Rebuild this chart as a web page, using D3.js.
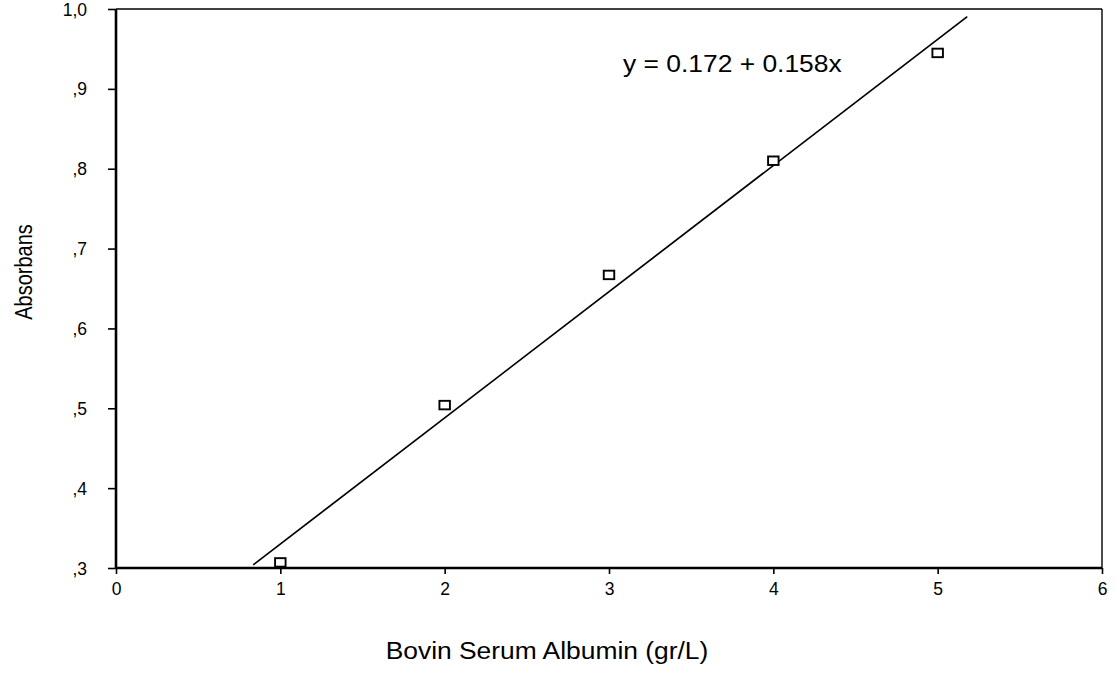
<!DOCTYPE html>
<html>
<head>
<meta charset="utf-8">
<script src="https://cdn.jsdelivr.net/npm/d3@7"></script>
<style>
  html, body { margin: 0; padding: 0; background: #fff; }
  svg { display: block; }
  text { font-family: Arial, "Liberation Sans", sans-serif; fill: #000; }
</style>
</head>
<body>
<svg id="chart" width="1117" height="673"></svg>
<script>
// ---- data ----
const concentrations = [1, 2, 3, 4, 5];
const absorbance = [0.307, 0.504, 0.667, 0.810, 0.945];
const fitIntercept = 0.172;
const fitSlope = 0.158;
const fitRange = [0.835, 5.18];
const xTicks = [0, 1, 2, 3, 4, 5, 6];
const yTicks = [0.3, 0.4, 0.5, 0.6, 0.7, 0.8, 0.9, 1.0];
const yTickLabels = [",3", ",4", ",5", ",6", ",7", ",8", ",9", "1,0"];
const equationText = "y = 0.172 + 0.158x";
const xTitle = "Bovin Serum Albumin (gr/L)";
const yTitle = "Absorbans";

(function () {
// ---- layout ----
const svg = d3.select("#chart");
const mLeft = 116, mRight = 1102, mTop = 9, mBottom = 568;

const x = d3.scaleLinear().domain([0, 6]).range([mLeft, mRight]);
const y = d3.scaleLinear().domain([0.3, 1.0]).range([mBottom, mTop]);

// frame (top & right thin)
svg.append("line").attr("x1", mLeft).attr("x2", mRight).attr("y1", mTop).attr("y2", mTop)
  .attr("stroke", "#000").attr("stroke-width", 1.4);
svg.append("line").attr("x1", mRight).attr("x2", mRight).attr("y1", mTop).attr("y2", mBottom)
  .attr("stroke", "#000").attr("stroke-width", 1.4);

// y axis
const yAxis = svg.append("g").attr("transform", `translate(${mLeft},0)`)
  .call(d3.axisLeft(y).tickValues(yTicks).tickSize(8).tickFormat((d, i) => yTickLabels[i]));
yAxis.select(".domain").attr("stroke-width", 2.6).attr("d", `M0,${mTop}V${mBottom}`);
yAxis.selectAll(".tick line").attr("stroke-width", 1.6);
yAxis.selectAll(".tick text")
  .attr("x", -29).attr("dy", null).attr("y", 6)
  .attr("text-anchor", "end")
  .attr("font-size", 17.5);

// x axis
const xAxis = svg.append("g").attr("transform", `translate(0,${mBottom})`)
  .call(d3.axisBottom(x).tickValues(xTicks).tickSize(6).tickFormat(d3.format("d")));
xAxis.select(".domain").attr("stroke-width", 2.6).attr("d", `M${mLeft},0H${mRight}`);
xAxis.selectAll(".tick line").attr("stroke-width", 1.6);
xAxis.selectAll(".tick text")
  .attr("y", 27).attr("dy", null)
  .attr("text-anchor", "middle")
  .attr("font-size", 17.5);

// regression line
const fitData = fitRange.map(v => [v, fitIntercept + fitSlope * v]);
svg.append("path")
  .datum(fitData)
  .attr("d", d3.line().x(d => x(d[0])).y(d => y(d[1])))
  .attr("fill", "none").attr("stroke", "#000").attr("stroke-width", 1.7);

// data markers (open squares)
const mw = 10.5, mh = 8.5;
svg.selectAll("rect.pt")
  .data(concentrations.map((c, i) => [c, absorbance[i]]))
  .join("rect")
  .attr("class", "pt")
  .attr("x", d => x(d[0]) - mw / 2)
  .attr("y", d => y(d[1]) - mh / 2)
  .attr("width", mw).attr("height", mh)
  .attr("fill", "#fff").attr("stroke", "#000").attr("stroke-width", 1.9);

// equation
svg.append("text")
  .attr("transform", "translate(623,72) scale(1.1,1)")
  .attr("font-size", 24)
  .text(equationText);

// axis titles
svg.append("text")
  .attr("transform", "translate(547,659) scale(1.1,1)")
  .attr("text-anchor", "middle")
  .attr("font-size", 24)
  .text(xTitle);

svg.append("text")
  .attr("transform", "translate(32,272) scale(1.15,1) rotate(-90)")
  .attr("text-anchor", "middle")
  .attr("font-size", 20)
  .text(yTitle);
})();
</script>
</body>
</html>
